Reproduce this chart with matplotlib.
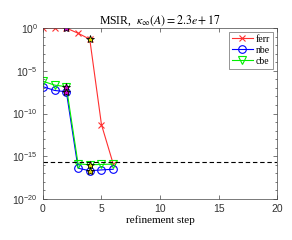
import numpy as np
import matplotlib
matplotlib.use('Agg')
from matplotlib import pyplot as plt
from matplotlib.ticker import LogLocator, NullFormatter

# data
steps = [0, 1, 2, 3, 4, 5, 6]
ferr = [1.0, 1.0, 1.0, 2.5e-1, 5e-2, 5e-12, 1.3e-16]
nbe = [1.4e-7, 5e-8, 3.5e-8, 4e-17, 2e-17, 2.5e-17, 3e-17]
cbe = [6e-7, 2.1e-7, 1.4e-7, 1.3e-16, 1e-16, 1.1e-16, 1.2e-16]
eps_level = 2.2e-16
star_magenta = 2
star_yellow = 4

plt.rcParams['mathtext.fontset'] = 'stix'
serif = 'Liberation Serif'
sans = 'Liberation Sans'

fig = plt.figure(figsize=(2.92, 2.40), dpi=100)
ax = fig.add_axes([0.147, 0.171, 0.802, 0.712])

ax.plot(steps, ferr, '-x', color='#ff3030', lw=0.8, ms=4, mew=0.8, label='ferr')
ax.plot(steps, nbe, '-o', color='#0000ff', lw=0.8, ms=5.5, mew=0.8, mfc='none', label='nbe')
ax.plot(steps, cbe, '-v', color='#00ee00', lw=0.8, ms=5.5, mew=0.8, mfc='none', label='cbe')

for series in (ferr, nbe, cbe):
    ax.plot(steps[star_magenta], series[star_magenta], '*', ms=6, mfc='#cc00cc', mec='k', mew=0.6)
    ax.plot(steps[star_yellow], series[star_yellow], '*', ms=6, mfc='#dddd00', mec='k', mew=0.6)

ax.axhline(eps_level, color='k', ls='--', lw=0.8, dashes=(4, 2.5))

ax.set_yscale('log')
ax.set_xlim(0, 20)
ax.set_ylim(1e-20, 1e0)
ax.set_xticks([0, 5, 10, 15, 20])
ax.set_yticks([1e-20, 1e-15, 1e-10, 1e-5, 1e0])
ax.yaxis.set_minor_locator(LogLocator(base=10, subs=[1.0], numticks=30))
ax.yaxis.set_minor_formatter(NullFormatter())
ax.tick_params(which='both', direction='in', top=True, right=True, width=0.5, color='#444444')
ax.tick_params(which='major', length=3)
ax.tick_params(which='minor', length=1.5)
for lab in ax.get_xticklabels() + ax.get_yticklabels():
    lab.set_family(sans)
    lab.set_fontsize(7.5)
    lab.set_color('#333333')
for s in ax.spines.values():
    s.set_linewidth(0.5)
    s.set_color('#444444')

ax.set_title(r'MSIR,  $\kappa_\infty(A) = 2.3e + 17$', family=serif, fontsize=8.5, pad=3)
ax.set_xlabel('refinement step', family=serif, fontsize=8, labelpad=1)

leg = ax.legend(loc='upper right', prop={'family': serif, 'size': 7}, fancybox=False,
                handlelength=2.2, borderpad=0.3, labelspacing=0.2, handletextpad=0.3,
                borderaxespad=0.4)
leg.get_frame().set_edgecolor('#444444')
leg.get_frame().set_linewidth(0.5)

fig.savefig('out.png', dpi=100)
